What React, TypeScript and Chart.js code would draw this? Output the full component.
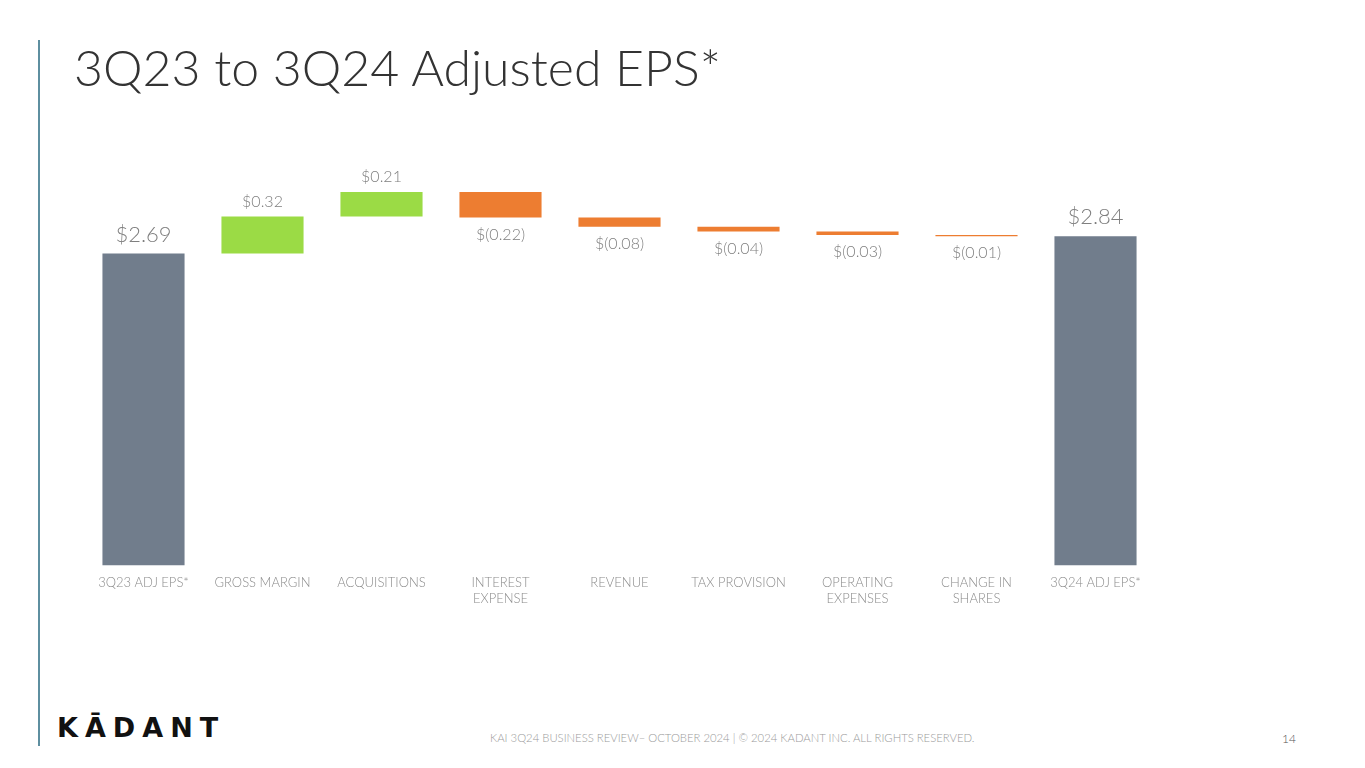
import { useEffect, useRef } from 'react';
import { Chart, registerables } from 'chart.js';
import type { Plugin } from 'chart.js';

Chart.register(...registerables);

// Waterfall steps
const categories: (string | string[])[] = [
  '3Q23 ADJ EPS*', 'GROSS MARGIN', 'ACQUISITIONS', ['INTEREST', 'EXPENSE'], 'REVENUE',
  'TAX PROVISION', ['OPERATING', 'EXPENSES'], ['CHANGE IN', 'SHARES'], '3Q24 ADJ EPS*',
];
const deltas   = [2.69, 0.32, 0.21, -0.22, -0.08, -0.04, -0.03, -0.01, 2.84];
const isTotal  = [true, false, false, false, false, false, false, false, true];
const valueLabels = ['$2.69', '$0.32', '$0.21', '$(0.22)', '$(0.08)', '$(0.04)', '$(0.03)', '$(0.01)', '$2.84'];

const GRAY   = '#717d8c';
const GREEN  = '#9bdb45';
const ORANGE = '#ed7d31';
const FONT   = 'Lato, "Open Sans", sans-serif';

// running totals -> [start, end] for each floating bar
function buildRanges(): [number, number][] {
  let run = 0;
  return deltas.map((d, i) => {
    if (isTotal[i]) { run = d; return [0, d]; }
    const start = run;
    run = +(run + d).toFixed(2);
    return [start, run];
  });
}

const valueLabelPlugin: Plugin<'bar'> = {
  id: 'valueLabels',
  afterDatasetsDraw(chart) {
    const { ctx } = chart;
    const meta = chart.getDatasetMeta(0);
    ctx.save();
    ctx.textAlign = 'center';
    ctx.fillStyle = '#7f7f7f';
    meta.data.forEach((el, i) => {
      const bar = el as unknown as { x: number; y: number; base: number };
      const top = Math.min(bar.y, bar.base);
      const bottom = Math.max(bar.y, bar.base);
      if (isTotal[i]) {
        ctx.font = `300 22px ${FONT}`;
        ctx.textBaseline = 'bottom';
        ctx.fillText(valueLabels[i], bar.x, top - 8);
      } else if (deltas[i] > 0) {
        ctx.font = `300 16px ${FONT}`;
        ctx.textBaseline = 'bottom';
        ctx.fillText(valueLabels[i], bar.x, top - 7);
      } else {
        ctx.font = `300 16px ${FONT}`;
        ctx.textBaseline = 'top';
        ctx.fillText(valueLabels[i], bar.x, bottom + 9);
      }
    });
    ctx.restore();
  },
};

export default function App() {
  const canvasRef = useRef<HTMLCanvasElement>(null);

  useEffect(() => {
    if (!canvasRef.current) return;
    const chart = new Chart(canvasRef.current, {
      type: 'bar',
      data: {
        labels: categories,
        datasets: [{
          data: buildRanges(),
          backgroundColor: deltas.map((d, i) => (isTotal[i] ? GRAY : d > 0 ? GREEN : ORANGE)),
          borderWidth: 0,
          barPercentage: 0.69,
          categoryPercentage: 1,
          minBarLength: 1,
        }],
      },
      options: {
        responsive: false,
        animation: false,
        layout: { padding: 0 },
        plugins: { legend: { display: false }, tooltip: { enabled: false } },
        scales: {
          x: {
            grid: { display: false },
            border: { display: false },
            ticks: {
              color: '#8c8c8c',
              font: { family: FONT, size: 13, weight: 300, lineHeight: 1.25 },
              padding: 1,
              maxRotation: 0,
              autoSkip: false,
            },
          },
          y: { display: false, min: 0, max: 3.6 },
        },
      },
      plugins: [valueLabelPlugin],
    });
    return () => chart.destroy();
  }, []);

  return (
    <div style={{ position: 'absolute', left: 0, top: 0, width: 1365, height: 768, background: '#fff', fontFamily: FONT, overflow: 'hidden' }}>
      <div style={{ position: 'absolute', left: 38, top: 40, width: 1.5, height: 706, background: '#5e8fa0' }} />
      <div style={{ position: 'absolute', left: 74, top: 37, fontSize: 50, fontWeight: 300, color: '#333', whiteSpace: 'nowrap' }}>
        3Q23 to 3Q24 Adjusted EPS*
      </div>
      <canvas ref={canvasRef} width={1071} height={460} style={{ position: 'absolute', left: 84, top: 148 }} />
      <div style={{ position: 'absolute', left: 57, top: 712, fontSize: 27, fontWeight: 900, letterSpacing: 7, color: '#111', fontFamily: '"DejaVu Sans", sans-serif' }}>
        KĀDANT
      </div>
      <div style={{ position: 'absolute', left: 490, top: 731, fontSize: 11.3, fontWeight: 300, color: '#9a9a9a', whiteSpace: 'nowrap' }}>
        KAI 3Q24 BUSINESS REVIEW– OCTOBER 2024 | © 2024 KADANT INC. ALL RIGHTS RESERVED.
      </div>
      <div style={{ position: 'absolute', left: 1282, top: 731, fontSize: 12, fontWeight: 300, color: '#555' }}>14</div>
    </div>
  );
}
